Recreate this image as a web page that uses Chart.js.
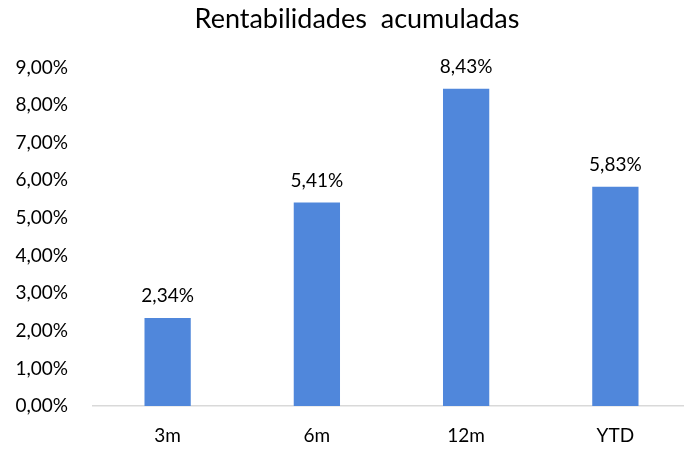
<!DOCTYPE html>
<html><head><meta charset="utf-8">
<script src="https://cdn.jsdelivr.net/npm/chart.js@4"></script>
<style>html,body{margin:0;padding:0;background:#fff;overflow:hidden}#wrap{width:714px;height:449px}</style>
</head><body><div id="wrap"><canvas id="c" width="714" height="449"></canvas></div>
<script>
const title = 'Rentabilidades  acumuladas';
const categories = ['3m', '6m', '12m', 'YTD'];
const values = [2.34, 5.41, 8.43, 5.83];
const fmt = v => v.toFixed(2).replace('.', ',') + '%';
const FONT = 'Lato, "Open Sans", sans-serif';

const labelsPlugin = {
  id: 'barLabels',
  afterDatasetsDraw(chart) {
    const ctx = chart.ctx;
    const meta = chart.getDatasetMeta(0);
    ctx.save();
    ctx.font = '19px ' + FONT;
    ctx.fillStyle = '#000';
    ctx.textAlign = 'center';
    ctx.textBaseline = 'middle';
    meta.data.forEach((bar, i) => {
      ctx.fillText(fmt(values[i]), bar.x, bar.y - 22);
    });
    ctx.restore();
  }
};

new Chart(document.getElementById('c'), {
  type: 'bar',
  data: {
    labels: categories,
    datasets: [{
      data: values,
      backgroundColor: '#5087DB',
      categoryPercentage: 1,
      barPercentage: 0.31,
      yAxisID: 'y'
    }]
  },
  options: {
    responsive: false,
    animation: false,
    layout: { padding: 0 },
    plugins: {
      legend: { display: false },
      tooltip: { enabled: false },
      title: {
        display: true,
        text: title,
        color: '#000',
        font: { family: FONT, size: 27, weight: 'normal' },
        padding: { top: 3, bottom: 32 }
      }
    },
    scales: {
      x: {
        grid: { display: false, drawTicks: false },
        border: { display: true, color: '#D9D9D9', width: 1.5 },
        ticks: { color: '#000', font: { family: FONT, size: 19 }, padding: 18 },
        afterFit: s => { s.height = 43; }
      },
      y: {
        min: 0, max: 9,
        grid: { display: false, drawTicks: false },
        border: { display: false },
        ticks: {
          stepSize: 1,
          color: '#000',
          font: { family: FONT, size: 19 },
          padding: 25,
          callback: v => fmt(v)
        },
        afterFit: s => { s.width = 93; }
      },
      yr: {
        position: 'right',
        min: 0, max: 9,
        grid: { display: false, drawTicks: false },
        border: { display: false },
        ticks: { display: false },
        afterFit: s => { s.width = 24; }
      }
    }
  },
  plugins: [labelsPlugin]
});
</script></body></html>
